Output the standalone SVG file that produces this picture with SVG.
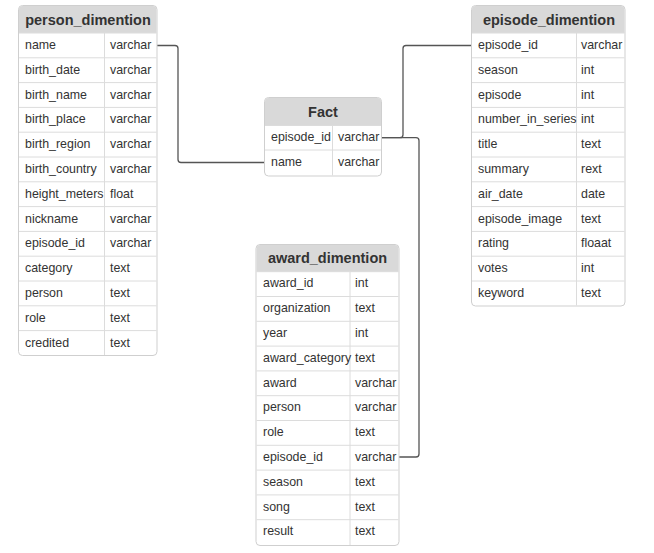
<svg xmlns="http://www.w3.org/2000/svg" width="654" height="553" viewBox="0 0 654 553">
<style>
.box{fill:#fff;stroke:#cfcfcf;stroke-width:1}
.hd{fill:#d9d9d9}
.grid{stroke:#dcdcdc;stroke-width:1;fill:none}
.ht{font-family:"Liberation Sans",Arial,sans-serif;font-size:14.5px;font-weight:bold;fill:#333;text-anchor:middle}
.t{font-family:"Liberation Sans",Arial,sans-serif;font-size:12.4px;fill:#333}
.cn{fill:none;stroke:#555;stroke-width:1.3}
</style>
<rect width="654" height="553" fill="#fff"/>
<g id="connectors">
<path class="cn" d="M157,45.5 H175 Q178,45.5 178,48.5 V159.5 Q178,162.5 181,162.5 H264"/>
<path class="cn" d="M381,137.7 H400 Q403,137.7 403,134.7 V48.5 Q403,45.5 406,45.5 H471"/>
<path class="cn" d="M381,137.7 H416 Q419,137.7 419,140.7 V454 Q419,457 416,457 H399"/>
</g>
<g id="person_dimention">
<rect class="box" x="18.5" y="5.5" width="138.5" height="350" rx="4"/>
<path class="hd" d="M19,33 V9.5 Q19,6 22.5,6 H153 Q156.5,6 156.5,9.5 V33 Z"/>
<path class="grid" d="M19,33H156.5 M19,57.8H156.5 M19,82.6H156.5 M19,107.4H156.5 M19,132.2H156.5 M19,157H156.5 M19,181.8H156.5 M19,206.6H156.5 M19,231.4H156.5 M19,256.2H156.5 M19,281H156.5 M19,305.8H156.5 M19,330.6H156.5 M104.5,33V355"/>
<text class="ht" x="88" y="24.5">person_dimention</text>
<g transform="translate(0,-1)">
<text class="t" x="25" y="50">name</text><text class="t" x="110" y="50">varchar</text>
<text class="t" x="25" y="74.8">birth_date</text><text class="t" x="110" y="74.8">varchar</text>
<text class="t" x="25" y="99.6">birth_name</text><text class="t" x="110" y="99.6">varchar</text>
<text class="t" x="25" y="124.4">birth_place</text><text class="t" x="110" y="124.4">varchar</text>
<text class="t" x="25" y="149.2">birth_region</text><text class="t" x="110" y="149.2">varchar</text>
<text class="t" x="25" y="174">birth_country</text><text class="t" x="110" y="174">varchar</text>
<text class="t" x="25" y="198.8">height_meters</text><text class="t" x="110" y="198.8">float</text>
<text class="t" x="25" y="223.6">nickname</text><text class="t" x="110" y="223.6">varchar</text>
<text class="t" x="25" y="248.4">episode_id</text><text class="t" x="110" y="248.4">varchar</text>
<text class="t" x="25" y="273.2">category</text><text class="t" x="110" y="273.2">text</text>
<text class="t" x="25" y="298">person</text><text class="t" x="110" y="298">text</text>
<text class="t" x="25" y="322.8">role</text><text class="t" x="110" y="322.8">text</text>
<text class="t" x="25" y="347.6">credited</text><text class="t" x="110" y="347.6">text</text>
</g>
</g>
<g id="fact">
<rect class="box" x="264.5" y="97.5" width="117" height="78.5" rx="4"/>
<path class="hd" d="M265,125.5 V101.5 Q265,98 268.5,98 H377.5 Q381,98 381,101.5 V125.5 Z"/>
<path class="grid" d="M265,125.5H381 M265,150H381 M332.5,125.5V175.5"/>
<text class="ht" x="323" y="116.5">Fact</text>
<g transform="translate(0,-1)">
<text class="t" x="271" y="142">episode_id</text><text class="t" x="338" y="142">varchar</text>
<text class="t" x="271" y="166.5">name</text><text class="t" x="338" y="166.5">varchar</text>
</g>
</g>
<g id="episode_dimention">
<rect class="box" x="471.5" y="5.5" width="153.5" height="300.5" rx="4"/>
<path class="hd" d="M472,33 V9.5 Q472,6 475.5,6 H621 Q624.5,6 624.5,9.5 V33 Z"/>
<path class="grid" d="M472,33H624.5 M472,57.8H624.5 M472,82.6H624.5 M472,107.4H624.5 M472,132.2H624.5 M472,157H624.5 M472,181.8H624.5 M472,206.6H624.5 M472,231.4H624.5 M472,256.2H624.5 M472,281H624.5 M576.5,33V305.5"/>
<text class="ht" x="549" y="24.5">episode_dimention</text>
<g transform="translate(0,-1)">
<text class="t" x="478" y="50">episode_id</text><text class="t" x="581" y="50">varchar</text>
<text class="t" x="478" y="74.8">season</text><text class="t" x="581" y="74.8">int</text>
<text class="t" x="478" y="99.6">episode</text><text class="t" x="581" y="99.6">int</text>
<text class="t" x="478" y="124.4">number_in_series</text><text class="t" x="581" y="124.4">int</text>
<text class="t" x="478" y="149.2">title</text><text class="t" x="581" y="149.2">text</text>
<text class="t" x="478" y="174">summary</text><text class="t" x="581" y="174">rext</text>
<text class="t" x="478" y="198.8">air_date</text><text class="t" x="581" y="198.8">date</text>
<text class="t" x="478" y="223.6">episode_image</text><text class="t" x="581" y="223.6">text</text>
<text class="t" x="478" y="248.4">rating</text><text class="t" x="581" y="248.4">floaat</text>
<text class="t" x="478" y="273.2">votes</text><text class="t" x="581" y="273.2">int</text>
<text class="t" x="478" y="298">keyword</text><text class="t" x="581" y="298">text</text>
</g>
</g>
<g id="award_dimention">
<rect class="box" x="256" y="244.5" width="143" height="301" rx="4"/>
<path class="hd" d="M256.5,271.7 V248.5 Q256.5,245 260,245 H395 Q398.5,245 398.5,248.5 V271.7 Z"/>
<path class="grid" d="M256.5,271.7H398.5 M256.5,296.5H398.5 M256.5,321.3H398.5 M256.5,346.1H398.5 M256.5,370.9H398.5 M256.5,395.7H398.5 M256.5,420.5H398.5 M256.5,445.3H398.5 M256.5,470.1H398.5 M256.5,494.9H398.5 M256.5,519.7H398.5 M350,271.7V545"/>
<text class="ht" x="327.5" y="263">award_dimention</text>
<g transform="translate(0,-1)">
<text class="t" x="263" y="288.3">award_id</text><text class="t" x="355" y="288.3">int</text>
<text class="t" x="263" y="313.1">organization</text><text class="t" x="355" y="313.1">text</text>
<text class="t" x="263" y="337.9">year</text><text class="t" x="355" y="337.9">int</text>
<text class="t" x="263" y="362.7">award_category</text><text class="t" x="355" y="362.7">text</text>
<text class="t" x="263" y="387.5">award</text><text class="t" x="355" y="387.5">varchar</text>
<text class="t" x="263" y="412.3">person</text><text class="t" x="355" y="412.3">varchar</text>
<text class="t" x="263" y="437.1">role</text><text class="t" x="355" y="437.1">text</text>
<text class="t" x="263" y="461.9">episode_id</text><text class="t" x="355" y="461.9">varchar</text>
<text class="t" x="263" y="486.7">season</text><text class="t" x="355" y="486.7">text</text>
<text class="t" x="263" y="511.5">song</text><text class="t" x="355" y="511.5">text</text>
<text class="t" x="263" y="536.3">result</text><text class="t" x="355" y="536.3">text</text>
</g>
</g>
</svg>
